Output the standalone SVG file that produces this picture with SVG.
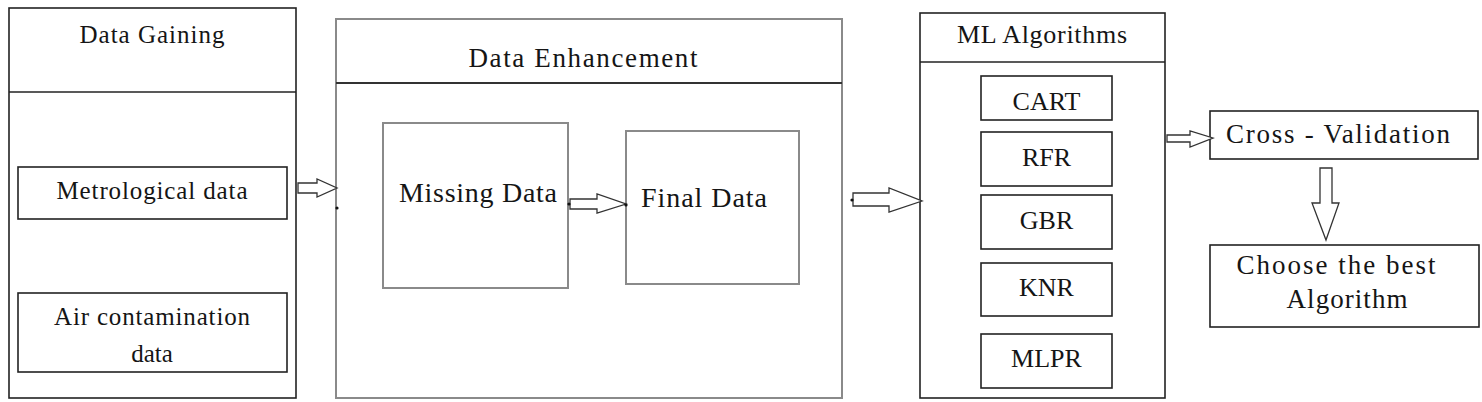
<svg xmlns="http://www.w3.org/2000/svg" width="1482" height="402" viewBox="0 0 1482 402">
<style>
text{font-family:"Liberation Serif","Times New Roman",serif;fill:#151515;}
.dark{fill:none;stroke:#222;stroke-width:1.6;}
.gray{fill:none;stroke:#8a8a8a;stroke-width:2;}
.arr{fill:#fff;stroke:#333;stroke-width:1.3;stroke-linejoin:miter;}
</style>
<rect width="1482" height="402" fill="#fff"/>
<g id="data-gaining">
<rect class="dark" x="9" y="8" width="287" height="390"/>
<line class="dark" x1="9" y1="92" x2="296" y2="92"/>
<text x="152" y="43" font-size="25" text-anchor="middle" textLength="145" lengthAdjust="spacing">Data Gaining</text>
</g>
<g id="metrological">
<rect class="dark" x="18" y="167" width="269" height="52"/>
<text x="152" y="199" font-size="25" text-anchor="middle" textLength="191" lengthAdjust="spacing">Metrological data</text>
</g>
<g id="air">
<rect class="dark" x="18" y="293" width="269" height="79"/>
<text x="152" y="325" font-size="25" text-anchor="middle" textLength="196" lengthAdjust="spacing">Air contamination</text>
<text x="152" y="362" font-size="25" text-anchor="middle">data</text>
</g>
<g id="data-enhancement">
<rect class="gray" x="336" y="19" width="506" height="379"/>
<line x1="336" y1="83" x2="842" y2="83" stroke="#333" stroke-width="1.8"/>
<text x="583" y="67" font-size="27" text-anchor="middle" textLength="229" lengthAdjust="spacing">Data Enhancement</text>
</g>
<g id="missing-data">
<rect class="gray" x="383" y="123" width="185" height="165"/>
<text x="478" y="202" font-size="28" text-anchor="middle" textLength="158" lengthAdjust="spacing">Missing Data</text>
</g>
<g id="final-data">
<rect class="gray" x="626" y="131" width="173" height="153"/>
<text x="704" y="207" font-size="28" text-anchor="middle" textLength="126" lengthAdjust="spacing">Final Data</text>
</g>
<g id="ml-algorithms">
<rect class="dark" x="920" y="13" width="245" height="385"/>
<line class="dark" x1="920" y1="62" x2="1165" y2="62"/>
<text x="1042" y="43" font-size="26" text-anchor="middle" textLength="170" lengthAdjust="spacing">ML Algorithms</text>
</g>
<g id="cart">
<rect class="dark" x="981" y="76" width="131" height="44"/>
<text x="1046.5" y="110" font-size="26" text-anchor="middle">CART</text>
</g>
<g id="rfr">
<rect class="dark" x="981" y="132" width="131" height="54"/>
<text x="1046.5" y="166" font-size="26" text-anchor="middle">RFR</text>
</g>
<g id="gbr">
<rect class="dark" x="981" y="195" width="131" height="54"/>
<text x="1046.5" y="229" font-size="26" text-anchor="middle">GBR</text>
</g>
<g id="knr">
<rect class="dark" x="981" y="263" width="131" height="53"/>
<text x="1046.5" y="296" font-size="26" text-anchor="middle">KNR</text>
</g>
<g id="mlpr">
<rect class="dark" x="981" y="334" width="131" height="54"/>
<text x="1046.5" y="367" font-size="26" text-anchor="middle">MLPR</text>
</g>
<g id="cross-validation">
<rect class="dark" x="1210" y="111" width="268" height="48"/>
<text x="1338" y="143" font-size="27" text-anchor="middle" textLength="224" lengthAdjust="spacing">Cross - Validation</text>
</g>
<g id="choose-best">
<rect class="dark" x="1210" y="245" width="269" height="82"/>
<text x="1336" y="274" font-size="27" text-anchor="middle" textLength="199" lengthAdjust="spacing">Choose the best</text>
<text x="1347" y="308" font-size="27" text-anchor="middle" textLength="121" lengthAdjust="spacing">Algorithm</text>
</g>
<g id="connectors">
<polygon class="arr" points="298,183 317,183 317,179 337,188 317,197 317,193 298,193"/>
<circle cx="337" cy="208" r="1.6" fill="#111"/>
<polygon class="arr" points="570,199 597,199 597,194 626,204 597,213 597,209 570,209"/>
<circle cx="569" cy="204" r="1.6" fill="#111"/>
<circle cx="626" cy="205" r="1.6" fill="#111"/>
<polygon class="arr" points="853,193 889,193 889,188 922,201 889,212 889,206 853,206"/>
<circle cx="852" cy="200" r="1.6" fill="#111"/>
<polygon class="arr" points="1167,135 1190,135 1190,131 1213,138 1190,147 1190,142 1167,142"/>
<polygon class="arr" points="1320,168 1332,168 1332,203 1339,203 1326,240 1312,203 1320,203"/>
</g>
</svg>
